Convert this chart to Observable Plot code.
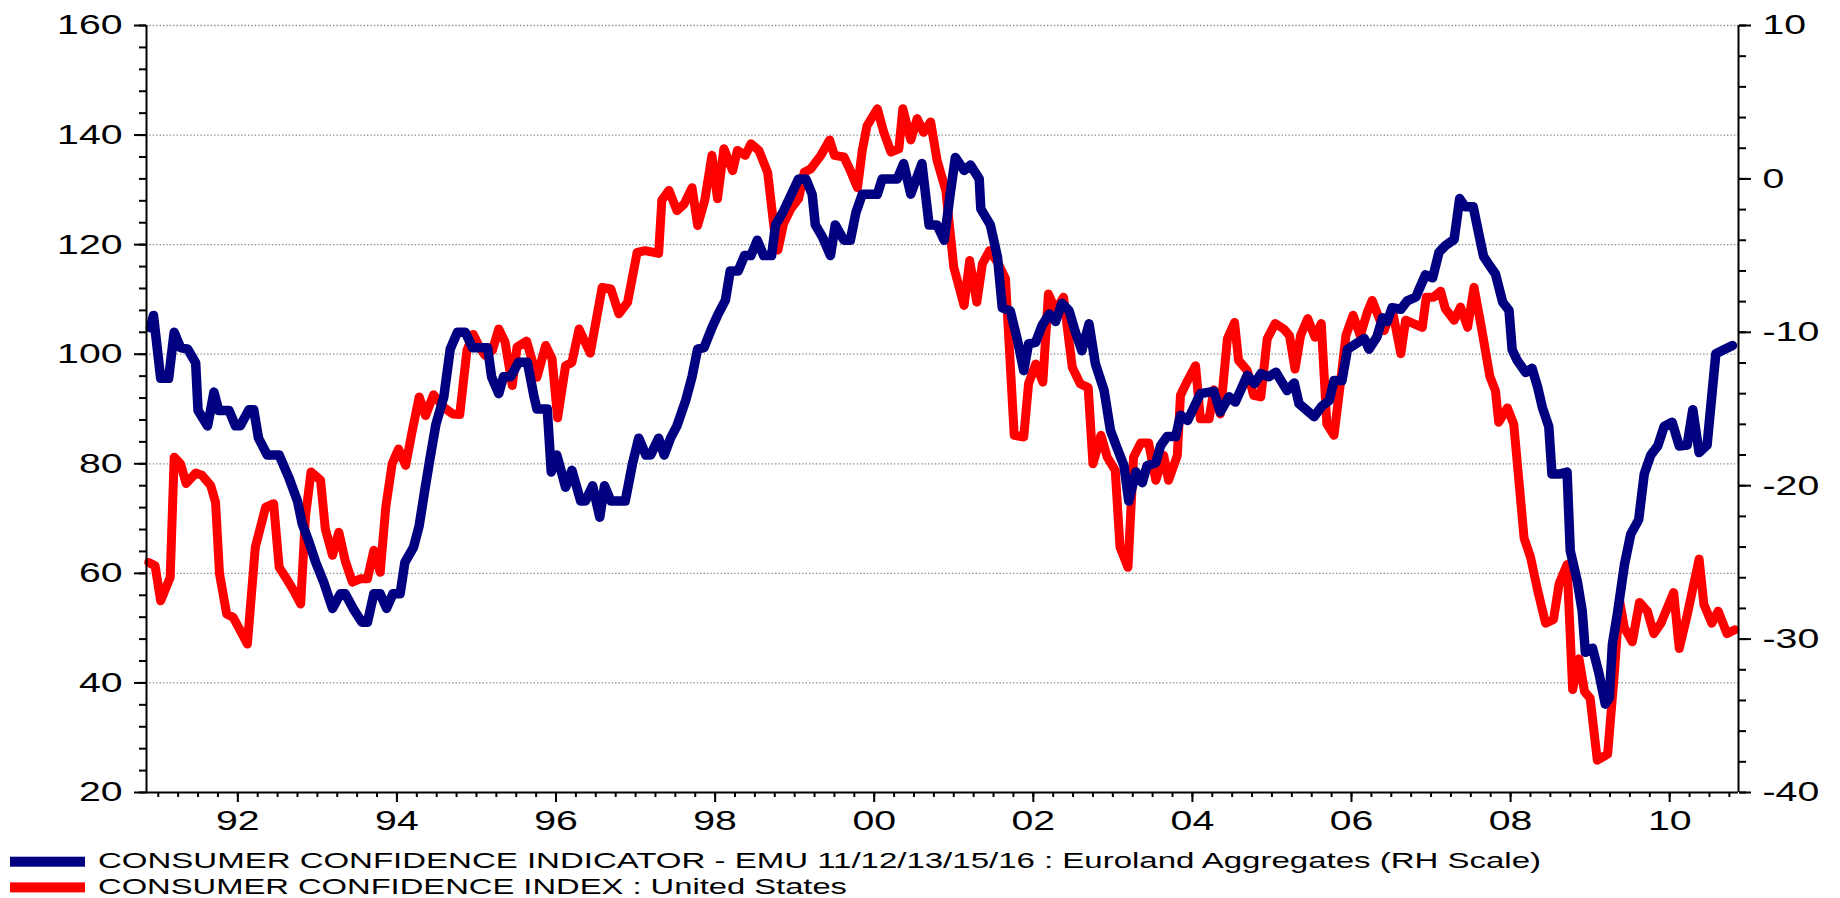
<!DOCTYPE html>
<html>
<head>
<meta charset="utf-8">
<script src="https://cdn.jsdelivr.net/npm/d3@7"></script>
<script src="https://cdn.jsdelivr.net/npm/@observablehq/plot@0.6"></script>
<style>
  html, body { margin: 0; padding: 0; background: #ffffff; }
  #chart svg, #legend svg { display: block; }
</style>
</head>
<body>
<div id="chart"></div>
<div id="legend"></div>
<script>
// ---------- DATA ----------
// Series names (legend)
const seriesNames = [
  "CONSUMER CONFIDENCE INDICATOR - EMU 11/12/13/15/16 : Euroland Aggregates (RH Scale)",
  "CONSUMER CONFIDENCE INDEX : United States"
];
// Axis tick labels / values
const leftTicks = [20, 40, 60, 80, 100, 120, 140, 160];
const rightTicks = [10, 0, -10, -20, -30, -40];
const yearTicks = [1992, 1994, 1996, 1998, 2000, 2002, 2004, 2006, 2008, 2010];
const leftDomain = [20, 160];
const rightDomain = [-40, 10];
const timeDomain = [1990.852, 2010.865];

// EMU consumer confidence indicator (right-hand scale): [decimal year, value]
const euroPoints = [
  [1990.90,-9.7],[1990.94,-8.9],[1991.03,-13.0],[1991.13,-13.0],[1991.20,-10.0],[1991.28,-11.0],
  [1991.37,-11.1],[1991.47,-12.0],[1991.50,-15.1],[1991.62,-16.1],[1991.70,-13.9],[1991.76,-15.1],
  [1991.89,-15.1],[1991.97,-16.1],[1992.03,-16.1],[1992.14,-15.05],[1992.20,-15.05],[1992.26,-16.9],
  [1992.37,-18.0],[1992.52,-18.0],[1992.64,-19.45],[1992.75,-21.0],[1992.81,-22.5],[1992.89,-23.6],
  [1992.98,-25.0],[1993.08,-26.3],[1993.19,-28.0],[1993.29,-27.05],[1993.35,-27.05],[1993.46,-28.1],
  [1993.56,-28.9],[1993.63,-28.9],[1993.71,-27.05],[1993.79,-27.05],[1993.87,-28.0],[1993.95,-27.05],
  [1994.04,-27.05],[1994.10,-25.0],[1994.21,-24.0],[1994.28,-22.6],[1994.35,-20.3],[1994.42,-18.1],
  [1994.49,-16.0],[1994.59,-14.2],[1994.67,-11.1],[1994.76,-10.0],[1994.86,-10.0],[1994.95,-11.0],
  [1995.14,-11.0],[1995.19,-12.9],[1995.28,-14.0],[1995.34,-12.9],[1995.43,-12.9],[1995.53,-11.95],
  [1995.64,-11.95],[1995.72,-14.1],[1995.76,-15.0],[1995.89,-15.0],[1995.94,-19.1],[1996.01,-18.0],
  [1996.12,-20.1],[1996.20,-19.0],[1996.31,-21.0],[1996.37,-21.0],[1996.46,-20.0],[1996.55,-22.05],
  [1996.61,-20.0],[1996.69,-21.0],[1996.87,-21.0],[1996.96,-18.6],[1997.04,-16.9],[1997.13,-18.0],
  [1997.19,-18.0],[1997.29,-16.9],[1997.36,-18.0],[1997.44,-16.9],[1997.52,-16.1],[1997.63,-14.45],
  [1997.71,-12.9],[1997.78,-11.1],[1997.86,-11.0],[1997.96,-9.7],[1998.03,-8.9],[1998.13,-7.9],
  [1998.19,-6.0],[1998.29,-6.0],[1998.37,-5.0],[1998.45,-5.0],[1998.53,-4.0],[1998.61,-5.0],
  [1998.71,-5.0],[1998.76,-3.0],[1998.86,-2.1],[1998.95,-1.1],[1999.05,0.0],[1999.14,0.0],
  [1999.22,-1.0],[1999.26,-3.0],[1999.35,-3.8],[1999.45,-5.0],[1999.51,-3.0],[1999.62,-4.0],
  [1999.70,-4.0],[1999.77,-2.2],[1999.85,-1.0],[2000.04,-1.0],[2000.10,0.0],[2000.29,0.0],
  [2000.37,1.0],[2000.46,-1.0],[2000.60,1.0],[2000.69,-3.0],[2000.79,-3.0],[2000.88,-4.0],
  [2000.96,-0.8],[2001.02,1.4],[2001.13,0.55],[2001.21,0.9],[2001.32,0.0],[2001.34,-1.95],
  [2001.46,-3.0],[2001.55,-5.1],[2001.61,-8.4],[2001.71,-8.6],[2001.80,-10.5],[2001.88,-12.5],
  [2001.94,-10.75],[2002.03,-10.65],[2002.11,-9.55],[2002.20,-8.8],[2002.28,-9.3],[2002.36,-8.1],
  [2002.45,-8.6],[2002.53,-10.0],[2002.61,-11.2],[2002.70,-9.45],[2002.78,-12.05],[2002.89,-13.8],
  [2002.97,-16.4],[2003.05,-17.5],[2003.14,-18.7],[2003.20,-21.0],[2003.29,-19.1],[2003.37,-19.8],
  [2003.43,-18.7],[2003.54,-18.5],[2003.60,-17.4],[2003.68,-16.8],[2003.79,-16.8],[2003.85,-15.4],
  [2003.94,-15.75],[2004.10,-14.0],[2004.27,-13.85],[2004.35,-15.2],[2004.46,-14.2],[2004.54,-14.55],
  [2004.69,-12.8],[2004.78,-13.35],[2004.86,-12.7],[2004.96,-12.9],[2005.05,-12.6],[2005.19,-13.8],
  [2005.28,-13.3],[2005.34,-14.65],[2005.53,-15.5],[2005.63,-14.8],[2005.72,-14.45],[2005.78,-13.15],
  [2005.88,-13.15],[2005.95,-11.1],[2006.07,-10.7],[2006.16,-10.4],[2006.22,-11.1],[2006.32,-10.3],
  [2006.39,-9.05],[2006.45,-9.3],[2006.51,-8.4],[2006.62,-8.5],[2006.70,-7.95],[2006.81,-7.7],
  [2006.85,-7.2],[2006.93,-6.25],[2007.02,-6.45],[2007.10,-4.78],[2007.18,-4.35],[2007.29,-3.95],
  [2007.36,-1.28],[2007.43,-1.82],[2007.53,-1.82],[2007.60,-3.57],[2007.66,-5.05],[2007.73,-5.6],
  [2007.81,-6.2],[2007.90,-8.03],[2007.98,-8.57],[2008.02,-11.14],[2008.08,-11.81],[2008.19,-12.62],
  [2008.27,-12.35],[2008.34,-13.57],[2008.40,-14.92],[2008.48,-16.14],[2008.52,-19.24],[2008.61,-19.24],
  [2008.71,-19.11],[2008.75,-24.24],[2008.84,-26.27],[2008.90,-28.16],[2008.94,-30.86],[2009.03,-30.59],
  [2009.11,-32.22],[2009.19,-34.24],[2009.24,-33.84],[2009.28,-30.32],[2009.34,-28.43],[2009.43,-25.19],
  [2009.51,-23.16],[2009.61,-22.22],[2009.68,-19.24],[2009.76,-18.03],[2009.85,-17.41],[2009.93,-16.14],
  [2010.03,-15.86],[2010.12,-17.41],[2010.22,-17.35],[2010.29,-15.05],[2010.37,-17.84],[2010.47,-17.35],
  [2010.58,-11.4],[2010.68,-11.14],[2010.79,-10.86]
];

// US consumer confidence index (left-hand scale): [decimal year, value]
const usPoints = [
  [1990.88,62.0],[1990.96,61.4],[1991.03,55.0],[1991.15,59.3],[1991.20,81.2],[1991.28,80.0],
  [1991.35,76.4],[1991.47,78.3],[1991.55,77.9],[1991.66,76.0],[1991.72,73.0],[1991.77,59.9],
  [1991.86,52.6],[1991.94,52.0],[1992.03,49.6],[1992.12,47.1],[1992.22,64.8],[1992.35,72.1],
  [1992.45,72.7],[1992.52,61.1],[1992.60,59.3],[1992.70,56.9],[1992.79,54.4],[1992.85,70.3],
  [1992.92,78.5],[1993.04,77.0],[1993.10,68.1],[1993.19,63.3],[1993.27,67.5],[1993.35,62.3],
  [1993.44,58.4],[1993.54,59.0],[1993.63,59.0],[1993.71,64.2],[1993.79,60.2],[1993.86,72.1],
  [1993.94,80.0],[1994.02,82.7],[1994.11,79.7],[1994.19,85.8],[1994.28,92.2],[1994.36,88.8],
  [1994.46,92.6],[1994.59,90.3],[1994.70,89.1],[1994.79,89.0],[1994.88,100.7],[1994.96,103.6],
  [1995.05,101.0],[1995.11,99.8],[1995.20,100.7],[1995.28,104.6],[1995.36,102.2],[1995.45,94.3],
  [1995.51,101.3],[1995.63,102.4],[1995.76,95.8],[1995.87,101.6],[1995.95,99.2],[1996.02,88.4],
  [1996.12,97.9],[1996.20,98.5],[1996.29,104.6],[1996.43,100.2],[1996.58,112.2],[1996.69,111.9],
  [1996.79,107.4],[1996.90,109.5],[1997.02,118.6],[1997.12,118.9],[1997.29,118.4],[1997.33,128.1],
  [1997.42,129.9],[1997.52,126.2],[1997.61,127.4],[1997.71,130.4],[1997.78,123.5],[1997.87,128.1],
  [1997.96,136.3],[1998.03,128.4],[1998.11,137.5],[1998.22,133.5],[1998.28,137.2],[1998.38,136.3],
  [1998.45,138.4],[1998.55,137.2],[1998.66,133.2],[1998.74,123.2],[1998.79,119.0],[1998.86,123.8],
  [1998.95,126.5],[1999.05,128.4],[1999.12,133.2],[1999.20,133.8],[1999.33,136.3],[1999.44,139.1],
  [1999.50,136.3],[1999.62,136.0],[1999.70,133.5],[1999.79,130.4],[1999.85,137.2],[1999.91,141.7],
  [2000.04,144.8],[2000.12,140.5],[2000.21,136.9],[2000.31,137.5],[2000.36,144.8],[2000.46,139.1],
  [2000.54,143.0],[2000.62,140.5],[2000.71,142.4],[2000.79,135.4],[2000.90,129.9],[2001.00,115.9],
  [2001.13,108.9],[2001.20,117.1],[2001.29,109.5],[2001.36,116.5],[2001.45,118.9],[2001.55,116.8],
  [2001.65,113.8],[2001.76,85.2],[2001.88,84.9],[2001.94,94.6],[2002.03,98.2],[2002.12,94.9],
  [2002.19,111.0],[2002.28,108.0],[2002.38,110.4],[2002.49,97.6],[2002.59,94.6],[2002.69,93.9],
  [2002.75,80.0],[2002.85,85.2],[2002.93,81.2],[2003.03,78.8],[2003.09,64.8],[2003.19,61.1],
  [2003.26,81.2],[2003.35,83.8],[2003.45,83.8],[2003.54,77.0],[2003.64,81.5],[2003.70,77.0],
  [2003.81,81.5],[2003.85,92.5],[2003.94,95.2],[2004.04,97.9],[2004.10,88.2],[2004.21,88.2],
  [2004.27,93.5],[2004.35,89.1],[2004.44,102.8],[2004.53,105.8],[2004.58,98.9],[2004.69,97.0],
  [2004.77,92.5],[2004.86,92.2],[2004.94,102.8],[2005.04,105.6],[2005.15,104.6],[2005.22,103.4],
  [2005.29,97.3],[2005.36,103.4],[2005.45,106.5],[2005.54,103.1],[2005.62,105.6],[2005.69,87.3],
  [2005.78,85.2],[2005.86,94.6],[2005.93,103.4],[2006.02,107.1],[2006.11,103.4],[2006.20,107.7],
  [2006.26,109.8],[2006.35,106.5],[2006.41,104.3],[2006.51,108.3],[2006.62,100.1],[2006.68,106.2],
  [2006.78,105.6],[2006.89,104.9],[2006.94,110.4],[2007.03,110.4],[2007.12,111.5],[2007.18,108.3],
  [2007.29,106.2],[2007.37,108.6],[2007.46,104.9],[2007.54,112.2],[2007.64,104.3],[2007.74,95.9],
  [2007.81,93.3],[2007.85,87.6],[2007.96,90.2],[2008.04,87.2],[2008.17,66.4],[2008.25,63.0],
  [2008.34,56.9],[2008.44,50.9],[2008.54,51.6],[2008.61,58.1],[2008.71,61.6],[2008.78,38.8],
  [2008.86,44.4],[2008.93,38.4],[2009.00,37.2],[2009.09,25.9],[2009.22,27.0],[2009.30,41.0],
  [2009.37,55.0],[2009.43,50.1],[2009.53,47.5],[2009.62,54.7],[2009.72,53.1],[2009.80,49.0],
  [2009.89,50.9],[2010.05,56.5],[2010.12,46.3],[2010.22,52.4],[2010.37,62.6],[2010.43,54.3],
  [2010.53,50.9],[2010.61,53.1],[2010.72,49.0],[2010.82,49.7]
];

// ---------- CHART ----------
const euroColor = "#000080";
const usColor = "#ff0000";
// map the right-hand scale onto the left-hand one
const rightToLeft = d3.scaleLinear().domain(rightDomain).range(leftDomain);
const gridValues = leftTicks.filter(v => v > leftDomain[0]);
const leftMinor = d3.range(leftDomain[0], leftDomain[1] + 0.001, 4);
const rightMinor = d3.range(rightDomain[0], rightDomain[1] + 0.001, 2);
const quarterTicks = d3.range(1991, 2010.9, 0.25);
const fmtYear = y => String(Math.round(y) % 100).padStart(2, "0");
const fmtRight = v => { const r = Math.round(rightToLeft.invert(v)); return r < 0 ? "-" + Math.abs(r) : String(r); };

const chart = Plot.plot({
  width: 1840,
  height: 848,
  marginLeft: 146,
  marginRight: 102,
  marginTop: 25,
  marginBottom: 56,
  x: {type: "linear", domain: timeDomain},
  y: {type: "linear", domain: leftDomain},
  style: {
    fontFamily: "'Liberation Sans', Arial, sans-serif",
    fontSize: "28px",
    color: "#000000",
    background: "#ffffff",
    overflow: "visible"
  },
  marks: [
    Plot.ruleY(gridValues, {stroke: "#8a8a8a", strokeWidth: 1.3, strokeDasharray: "1.4,2"}),
    Plot.line(usPoints, {x: d => d[0], y: d => d[1], stroke: usColor, strokeWidth: 9, strokeLinejoin: "round"}),
    Plot.line(euroPoints, {x: d => d[0], y: d => rightToLeft(d[1]), stroke: euroColor, strokeWidth: 9.5, strokeLinejoin: "round"}),
    Plot.ruleX(timeDomain, {stroke: "#000", strokeWidth: 2}),
    Plot.ruleY([leftDomain[0]], {stroke: "#000", strokeWidth: 2}),
    // left axis
    Plot.axisY(leftMinor, {anchor: "left", tickSize: 7, strokeWidth: 2, tickFormat: () => ""}),
    Plot.axisY(leftTicks, {anchor: "left", tickSize: 12, tickPadding: 12, strokeWidth: 2, tickFormat: d => String(d)}),
    // right axis
    Plot.axisY(rightMinor.map(rightToLeft), {anchor: "right", tickSize: 7, strokeWidth: 2, tickFormat: () => ""}),
    Plot.axisY(rightTicks.map(rightToLeft), {anchor: "right", tickSize: 12, tickPadding: 12, strokeWidth: 2, tickFormat: fmtRight}),
    // bottom axis
    Plot.axisX(quarterTicks, {anchor: "bottom", tickSize: 5, strokeWidth: 2, tickFormat: () => ""}),
    Plot.axisX(yearTicks, {anchor: "bottom", tickSize: 10, tickPadding: 8, strokeWidth: 2, tickFormat: fmtYear})
  ]
});
document.getElementById("chart").append(chart);

// horizontally widen tick labels like the reference typeface
chart.querySelectorAll("text").forEach(t => {
  if (!t.textContent) return;
  const w = t.getComputedTextLength();
  t.setAttribute("textLength", (w * 1.4).toFixed(1));
  t.setAttribute("lengthAdjust", "spacingAndGlyphs");
});

// ---------- LEGEND ----------
const legendColors = [euroColor, usColor];
const legendWidths = [1443, 749];
const legend = d3.create("svg")
  .attr("width", 1840).attr("height", 50)
  .style("font-family", "'Liberation Sans', Arial, sans-serif")
  .style("font-size", "22px");
seriesNames.forEach((name, i) => {
  const g = legend.append("g").attr("transform", `translate(0,${i * 25.7})`);
  g.append("rect").attr("x", 10).attr("y", 8.7).attr("width", 75).attr("height", 10).attr("fill", legendColors[i]);
  g.append("text").attr("x", 98).attr("y", 20.3).attr("fill", "#000")
    .attr("textLength", legendWidths[i]).attr("lengthAdjust", "spacingAndGlyphs")
    .text(name);
});
document.getElementById("legend").append(legend.node());
</script>
</body>
</html>
